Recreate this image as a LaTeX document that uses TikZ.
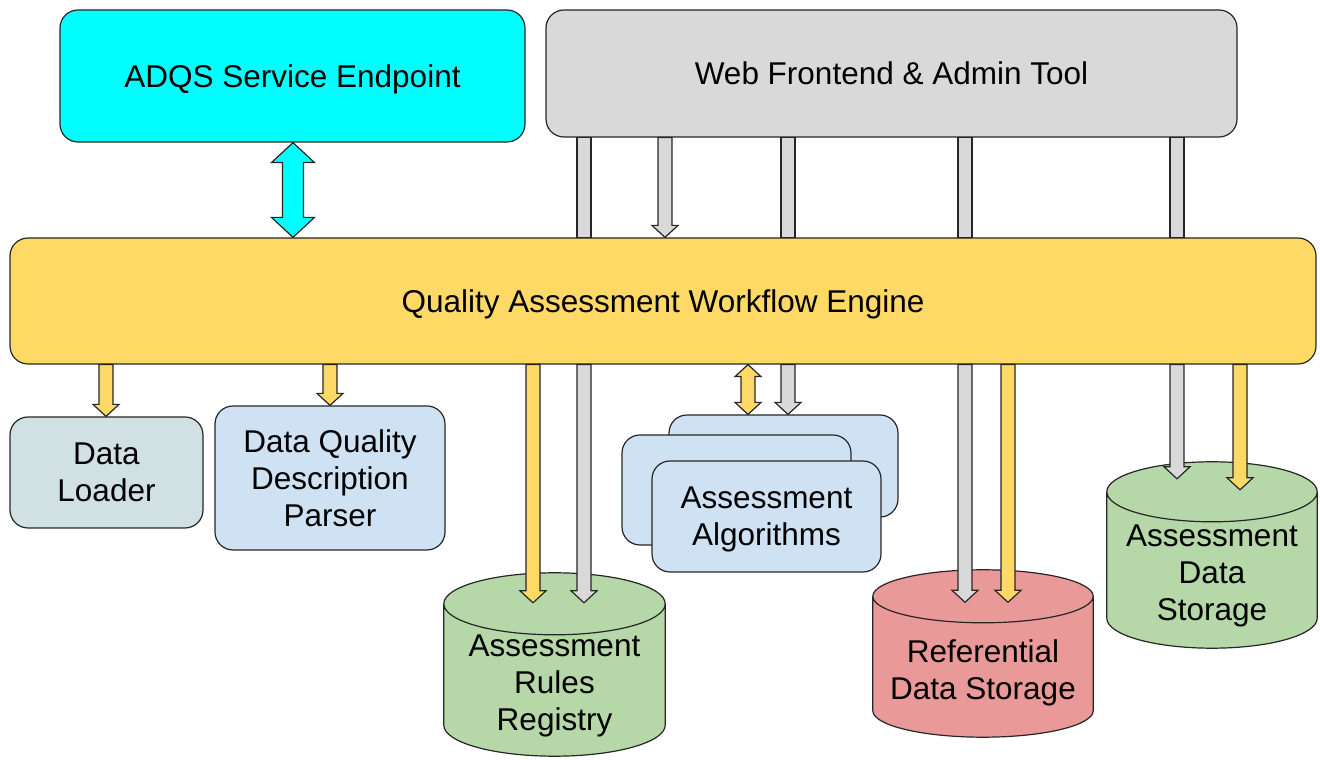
\documentclass[tikz,border=0pt]{standalone}
\usepackage{fontspec}
\setmainfont{Liberation Sans}
\usetikzlibrary{calc,backgrounds}

\definecolor{endpointcyan}{HTML}{00FFFF}
\definecolor{webgray}{HTML}{D9D9D9}
\definecolor{engineyellow}{HTML}{FFD966}
\definecolor{loaderblue}{HTML}{D0E0E3}
\definecolor{partblue}{HTML}{CFE2F3}
\definecolor{storegreen}{HTML}{B6D7A8}
\definecolor{storered}{HTML}{EA9999}
\definecolor{edge}{HTML}{262626}

% 粗箭头的尺寸: 杆半宽/头半宽/头长
\def\arsw{7pt}\def\arhw{13pt}\def\arhl{12pt}
% 圆柱顶面中心在节点上沿之上的距离
\def\drumlip{6pt}
\tikzset{
  fat size/.code args={#1/#2/#3}{\def\arsw{#1}\def\arhw{#2}\def\arhl{#3}},
  fatline/.style={draw=edge, line width=1.2pt, line join=miter},
  grayfat/.style={fatline, fill=webgray},
  yellowfat/.style={fatline, fill=engineyellow},
  cyanfat/.style={fatline, fill=endpointcyan, fat size=10.5pt/21.5pt/20pt},
  box/.style={draw=edge, line width=1.2pt, rounded corners=18pt, align=center, inner sep=0pt, text depth=0pt},
  drumbody/.style={align=center, inner sep=0pt, text depth=0pt},
}

% 向下的粗箭头 (样式, 起点, 终点)
\newcommand{\fatarrow}[3]{%
  \draw[#1] let \p1=#2, \p2=#3 in
    (\x1-\arsw,\y1) -- (\x1-\arsw,\y2+\arhl) -- (\x1-\arhw,\y2+\arhl) -- (\x1,\y2)
    -- (\x1+\arhw,\y2+\arhl) -- (\x1+\arsw,\y2+\arhl) -- (\x1+\arsw,\y1) -- cycle;}
% 没有箭头的杆
\newcommand{\fatshaft}[3]{%
  \draw[#1] let \p1=#2, \p2=#3 in (\x1-\arsw,\y1) rectangle (\x1+\arsw,\y2);}
% 双向粗箭头
\newcommand{\fatdouble}[3]{%
  \draw[#1] let \p1=#2, \p2=#3 in
    (\x1,\y1) -- (\x1+\arhw,\y1-\arhl) -- (\x1+\arsw,\y1-\arhl) -- (\x1+\arsw,\y2+\arhl)
    -- (\x1+\arhw,\y2+\arhl) -- (\x1,\y2) -- (\x1-\arhw,\y2+\arhl) -- (\x1-\arsw,\y2+\arhl)
    -- (\x1-\arsw,\y1-\arhl) -- (\x1-\arhw,\y1-\arhl) -- cycle;}
% 圆柱 (节点, 半径, 颜色)
\newcommand{\drum}[3]{%
  \draw[fatline, fill=#3] let \p1=([yshift=\drumlip]#1.north west), \p2=(#1.south east), \n1={(\x2-\x1)/2} in
    (\x1,\y1) -- (\x1,\y2+#2) arc[start angle=180, end angle=360, x radius=\n1, y radius=#2]
    -- (\x2,\y1) arc[start angle=0, end angle=180, x radius=\n1, y radius=#2] -- cycle
    (\x1,\y1) arc[start angle=180, end angle=360, x radius=\n1, y radius=#2];}

\begin{document}
\begin{tikzpicture}[x=1pt, y=1pt, font=\fontsize{31.5}{37}\selectfont]
  \useasboundingbox (0,0) rectangle (1320,760);

  % 上面的三个框
  \node[box, fill=endpointcyan, minimum width=465pt, minimum height=132pt] (adqs) at (292.5,684) {ADQS Service Endpoint};
  \node[box, fill=webgray, minimum width=691pt, minimum height=127pt] (web) at (891.5,686.5) {Web Frontend \& Admin Tool};
  \node[box, fill=engineyellow, minimum width=1306pt, minimum height=126pt] (engine) at (663,459) {Quality Assessment Workflow Engine};

  % 下面的组件
  \node[box, fill=loaderblue, minimum width=193pt, minimum height=111pt] (loader) at (106.5,287.5) {Data\\Loader};
  \node[box, fill=partblue, minimum width=230pt, minimum height=144pt] (parser) at (330,282) {Data Quality\\Description\\Parser};
  \node[box, fill=partblue, minimum width=229pt, minimum height=102pt] (algback) at (783.5,294) {};
  \node[box, fill=partblue, minimum width=229pt, minimum height=110pt] (algmid) at (736.5,270) {};
  \node[box, fill=partblue, minimum width=229pt, minimum height=111pt] (algfront) at (766.5,243.5) {Assessment\\Algorithms};

  % 存储
  \node[drumbody, minimum width=221pt, minimum height=146pt] (rules) at (554.5,77) {Assessment\\Rules\\Registry};
  \node[drumbody, minimum width=220pt, minimum height=134.5pt] (referential) at (983,90.25) {Referential\\Data Storage};
  \node[drumbody, minimum width=210pt, minimum height=150pt] (assessdata) at (1212,187) {Assessment\\Data\\Storage};
  \begin{scope}[on background layer]
    \drum{rules}{31pt}{storegreen}
    \drum{referential}{26.5pt}{storered}
    \drum{assessdata}{30pt}{storegreen}
  \end{scope}
  \coordinate (rulestop) at ([yshift=7pt]rules.north);
  \coordinate (datatop) at ([yshift=8pt]assessdata.north);
  \coordinate (databack) at ([yshift=19pt]assessdata.north);

  % 服务端点 <-> 引擎
  \fatdouble{cyanfat}{(293,0 |- adqs.south)}{(293,0 |- engine.north)}

  % 前端的灰色箭头
  \foreach \gx in {584,788,965,1177} {
    \fatshaft{grayfat}{(\gx,0 |- web.south)}{(\gx,0 |- engine.north)}
  }
  \fatarrow{grayfat}{(665,0 |- web.south)}{(665,0 |- engine.north)}
  \fatarrow{grayfat}{(584,0 |- engine.south)}{(584,0 |- rulestop)}
  \fatarrow{grayfat}{(788,0 |- engine.south)}{(788,0 |- algback.north)}
  \fatarrow{grayfat}{(965,0 |- engine.south)}{(965,0 |- referential.north)}
  \fatarrow{grayfat}{(1177,0 |- engine.south)}{(1177,0 |- databack)}

  % 引擎的黄色箭头
  \fatarrow{yellowfat}{(106,0 |- engine.south)}{(106,0 |- loader.north)}
  \fatarrow{yellowfat}{(330,0 |- engine.south)}{(330,0 |- parser.north)}
  \fatarrow{yellowfat}{(533,0 |- engine.south)}{(533,0 |- rulestop)}
  \fatdouble{yellowfat}{(748,0 |- engine.south)}{(748,0 |- algback.north)}
  \fatarrow{yellowfat}{(1008,0 |- engine.south)}{(1008,0 |- referential.north)}
  \fatarrow{yellowfat}{(1240,0 |- engine.south)}{(1240,0 |- datatop)}
\end{tikzpicture}
\end{document}
